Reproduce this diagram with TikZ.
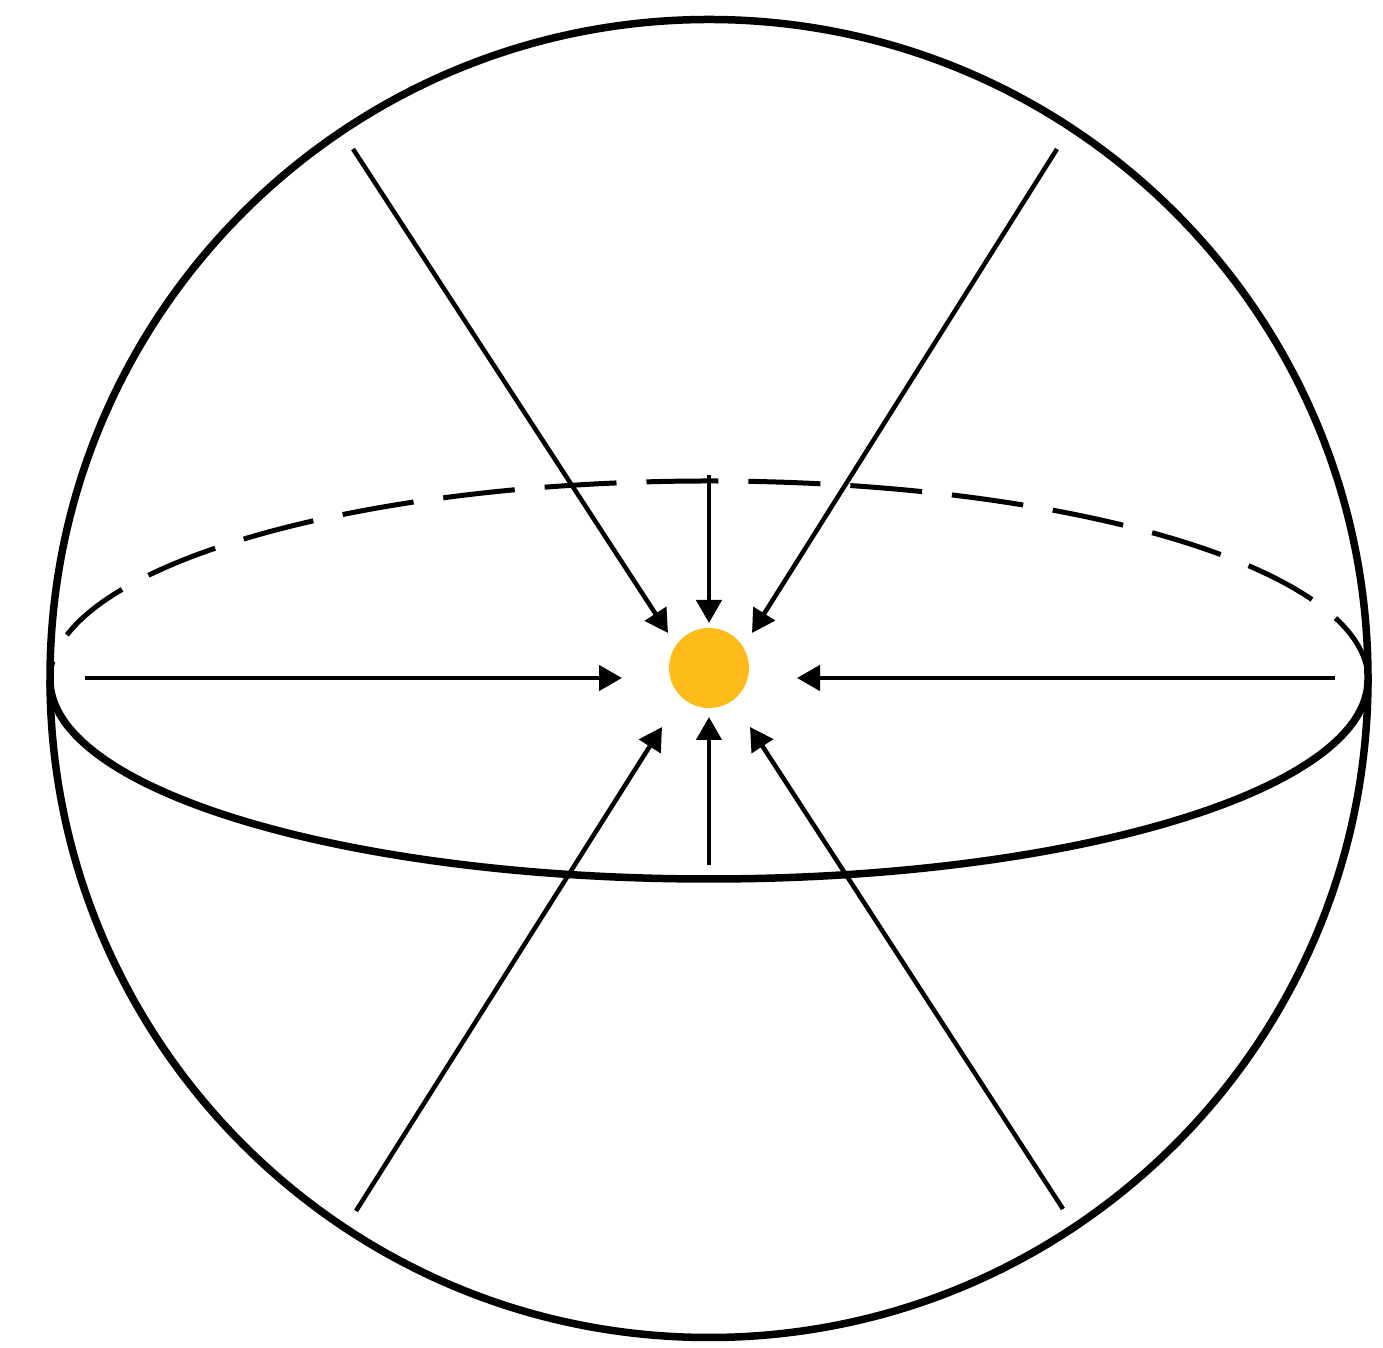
\documentclass[tikz,border=0pt]{standalone}
\usetikzlibrary{arrows.meta}
\definecolor{sunyellow}{RGB}{253,188,25}
\begin{document}
\begin{tikzpicture}[x=0.02cm,y=0.02cm,
  shell/.style={line width=0.15cm, draw=black},
  backline/.style={line width=0.1cm, draw=black, dash pattern=on 1.44cm off 0.6cm},
  ray/.style={line width=0.09cm, -{Triangle[length=0.46cm,width=0.5cm]}},
  dot/.style={circle, fill=sunyellow, minimum size=1.6cm, inner sep=0pt}]
\useasboundingbox (0,0) rectangle (1383,1348);
% sphere
\coordinate (c) at (709,669.5);
\draw[shell] (c) circle[radius=659];
% equator
\coordinate (eqL) at (50,668);
\coordinate (eqR) at (1368,668);
\draw[backline] (eqR) arc[start angle=0, end angle=180, x radius=659, y radius=199];
\draw[shell] (eqL) arc[start angle=180, end angle=360, x radius=659, y radius=199];
% centre
\node[dot] (sun) at (709,680) {};
% ray starts and tips
\coordinate (sT) at (709,873);  \coordinate (tT) at (709,725);
\coordinate (sUL) at (353,1199); \coordinate (tUL) at (668,715);
\coordinate (sUR) at (1057,1199); \coordinate (tUR) at (752,715);
\coordinate (sL) at (85,670);   \coordinate (tL) at (622,670);
\coordinate (sR) at (1335,670); \coordinate (tR) at (797,670);
\coordinate (sB) at (709,483);  \coordinate (tB) at (709,631);
\coordinate (sLL) at (356,137); \coordinate (tLL) at (662,621);
\coordinate (sLR) at (1063,139); \coordinate (tLR) at (750,621);
\foreach \n in {T,UL,UR,L,R,B,LL,LR}
  \draw[ray] (s\n) -- (t\n);
\end{tikzpicture}
\end{document}
